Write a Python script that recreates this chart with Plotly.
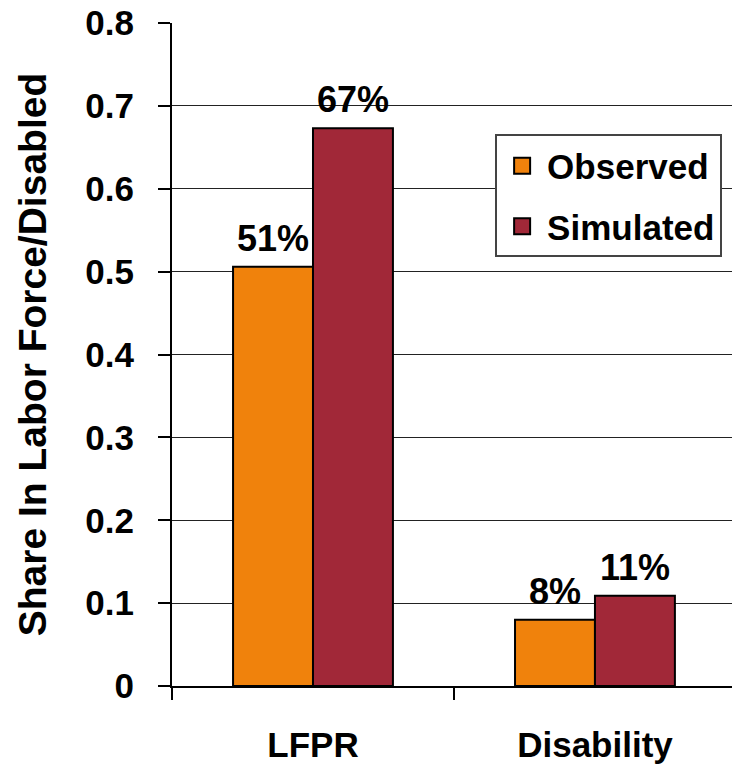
import plotly.graph_objects as go

# Shares by measure
categories = ["LFPR", "Disability"]
observed = [0.506, 0.080]
simulated = [0.673, 0.109]
series_names = ["Observed", "Simulated"]
y_ticks = [0, 0.1, 0.2, 0.3, 0.4, 0.5, 0.6, 0.7, 0.8]
y_tick_labels = ["0", "0.1", "0.2", "0.3", "0.4", "0.5", "0.6", "0.7", "0.8"]

ORANGE = "#F0820C"
MAROON = "#A12838"
FONT = "Liberation Sans, Arial, sans-serif"
BOLD = dict(family=FONT, color="black", weight="bold")

fig = go.Figure()

series = [(series_names[0], observed, ORANGE), (series_names[1], simulated, MAROON)]
for name, vals, color in series:
    fig.add_trace(go.Bar(
        x=categories, y=vals, name=name,
        marker=dict(color=color, line=dict(color="black", width=2)),
        showlegend=False,
    ))

# percentage labels above each bar (bars are ~80 px wide, offset half a bar from centre)
for k, (name, vals, color) in enumerate(series):
    shift = -40 if k == 0 else 40
    for cat, v in zip(categories, vals):
        fig.add_annotation(
            x=cat, y=v, text=f"{v:.0%}", showarrow=False,
            xanchor="center", yanchor="bottom", xshift=shift, yshift=6,
            font=dict(size=36, **BOLD),
        )

# legend entries with larger square swatches
for i, (name, color) in enumerate([(series_names[0], ORANGE), (series_names[1], MAROON)]):
    fig.add_trace(go.Scatter(
        x=[None], y=[None], mode="markers", name=name,
        legendgroup=f"g{i}",
        marker=dict(symbol="square", size=16, color=color,
                    line=dict(color="black", width=2)),
    ))

fig.update_layout(
    width=732, height=764,
    margin=dict(l=172, r=0, t=23, b=78),
    paper_bgcolor="white", plot_bgcolor="white",
    barmode="group", bargap=0.433, bargroupgap=0,
    font=dict(family=FONT, color="black"),
    legend=dict(
        x=0.577, y=0.832, xanchor="left", yanchor="top",
        bgcolor="white", bordercolor="#444", borderwidth=2,
        font=dict(size=35, **BOLD),
        tracegroupgap=12, itemwidth=40,
    ),
)

fig.update_xaxes(
    type="category", range=[-0.5, 1.486],
    tickson="boundaries", ticks="outside", ticklen=12, tickwidth=1.5, tickcolor="black",
    showline=True, linecolor="black", linewidth=2,
    showgrid=False, zeroline=False,
    tickfont=dict(size=35, **BOLD),
    ticklabelstandoff=27,
)

fig.update_yaxes(
    range=[0, 0.8], tickvals=y_ticks, ticktext=y_tick_labels,
    ticks="outside", ticklen=12, tickwidth=1.5, tickcolor="black",
    showline=True, linecolor="black", linewidth=2,
    showgrid=True, gridcolor="#222", gridwidth=1, zeroline=False,
    tickfont=dict(size=35, **BOLD),
    ticklabelstandoff=17,
    title=dict(text="Share In Labor Force/Disabled", standoff=27,
               font=dict(size=39, **BOLD)),
)

fig.write_html("out.html")
